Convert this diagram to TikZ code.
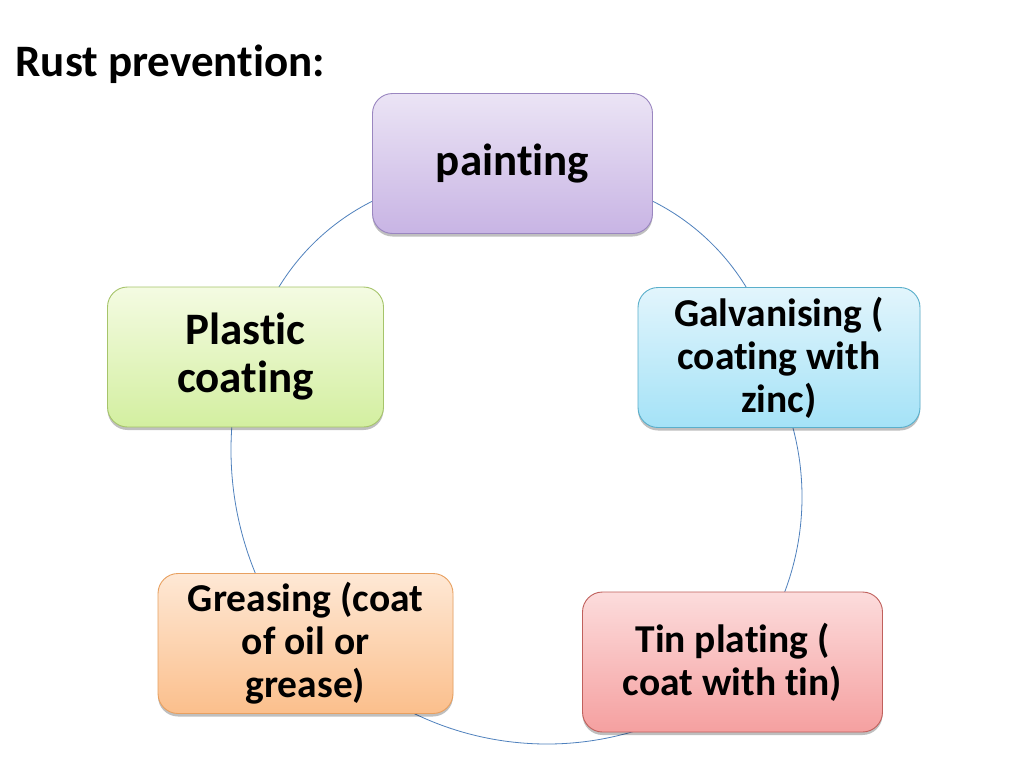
\documentclass[tikz,border=0pt]{standalone}
\usepackage{fontspec}
\setmainfont{Carlito}[RawFeature={-liga;-clig;-dlig}]
\usetikzlibrary{shadows}
\definecolor{paintTop}{HTML}{EBE4F5}
\definecolor{paintBot}{HTML}{C8B4E4}
\definecolor{paintLine}{HTML}{9A86C0}
\definecolor{galvTop}{HTML}{E2F5FC}
\definecolor{galvBot}{HTML}{A4E2F7}
\definecolor{galvLine}{HTML}{5AAFCB}
\definecolor{tinTop}{HTML}{FCDCDC}
\definecolor{tinBot}{HTML}{F5A0A0}
\definecolor{tinLine}{HTML}{C0605C}
\definecolor{greaseTop}{HTML}{FEE8D5}
\definecolor{greaseBot}{HTML}{FBBF8C}
\definecolor{greaseLine}{HTML}{E8A060}
\definecolor{plastTop}{HTML}{F4FBE2}
\definecolor{plastBot}{HTML}{D3EFA0}
\definecolor{plastLine}{HTML}{A6C46A}
\definecolor{ringLine}{HTML}{4F81BD}
\tikzset{
  cyclebox/.style={rounded corners=20pt, line width=0.9pt, align=center,
    inner sep=0pt, font=\bfseries,
    drop shadow={shadow xshift=0pt, shadow yshift=-3pt, opacity=0.25, fill=black}},
  bigtext/.style={font=\fontsize{45}{48}\selectfont\bfseries},
  smalltext/.style={font=\fontsize{39.5}{43}\selectfont\bfseries},
  ring/.style={draw=ringLine, line width=0.8pt}
}
\begin{document}
\begin{tikzpicture}[x=1pt,y=-1pt]
\useasboundingbox[fill=white] (0,0) rectangle (1024,768);
% centres of the connecting arcs
\coordinate (cTR) at (549.8,406.9);
\coordinate (cTL) at (475.2,406.9);
\coordinate (cR) at (533,497);
\coordinate (cB) at (547,439);
\coordinate (cL) at (555,450);
\draw[ring] ([shift={(-68:230)}]cTR) arc[start angle=-68, end angle=-27, radius=230];
\draw[ring] ([shift={(-20:269)}]cR) arc[start angle=-20, end angle=26, radius=269];
\draw[ring] ([shift={(70:305)}]cB) arc[start angle=70, end angle=120, radius=305];
\draw[ring] ([shift={(150:324)}]cL) arc[start angle=150, end angle=190, radius=324];
\draw[ring] ([shift={(207:230)}]cTL) arc[start angle=207, end angle=248, radius=230];
\node[anchor=base west, bigtext] (title) at (12,77) {Rust prevention:};
\node[cyclebox, bigtext, draw=paintLine, top color=paintTop, bottom color=paintBot,
  minimum width=280pt, minimum height=140pt] (paint) at (512.5,163.5) {painting};
\node[cyclebox, smalltext, draw=galvLine, top color=galvTop, bottom color=galvBot,
  minimum width=282pt, minimum height=140pt] (galv) at (779,357.5) {Galvanising (\\coating with\\zinc)};
\node[cyclebox, smalltext, draw=tinLine, top color=tinTop, bottom color=tinBot,
  minimum width=300pt, minimum height=140pt] (tin) at (732.5,662) {Tin plating (\\coat with tin)};
\node[cyclebox, smalltext, draw=greaseLine, top color=greaseTop, bottom color=greaseBot,
  minimum width=295pt, minimum height=140pt] (grease) at (305.5,643.5) {Greasing (coat\\of oil or\\grease)};
\node[cyclebox, bigtext, draw=plastLine, top color=plastTop, bottom color=plastBot,
  minimum width=276pt, minimum height=140pt] (plast) at (245.5,357) {Plastic\\coating};
\end{tikzpicture}
\end{document}
